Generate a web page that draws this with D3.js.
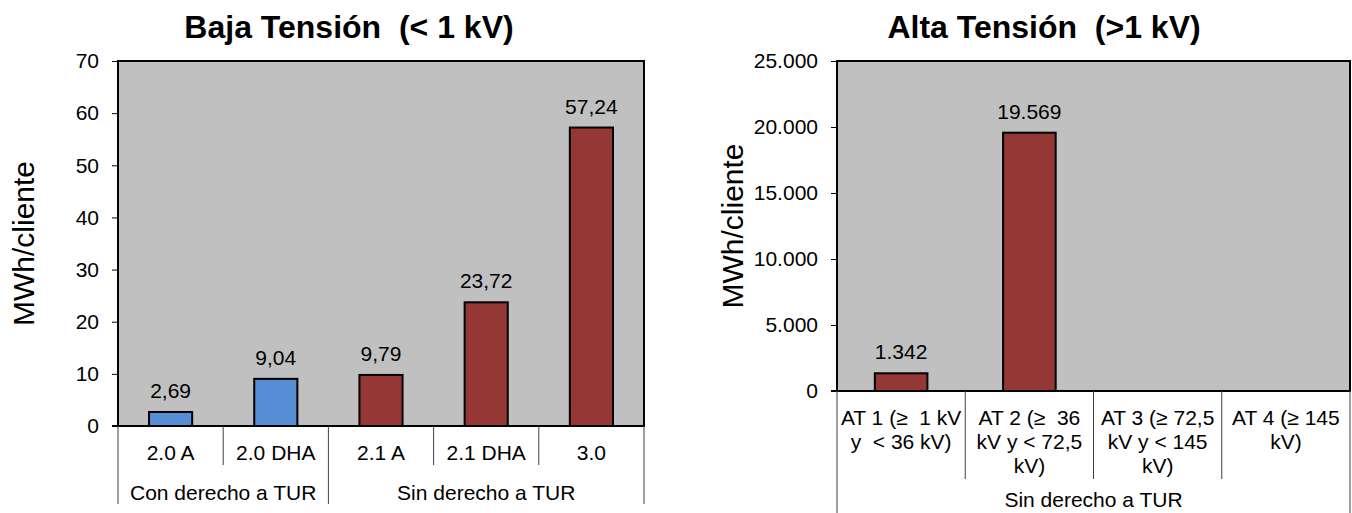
<!DOCTYPE html>
<html>
<head>
<meta charset="utf-8">
<script src="https://cdn.jsdelivr.net/npm/d3@7"></script>
<style>
  body { margin: 0; background: #fff; }
  svg { display: block; font-family: "Liberation Sans", Arial, sans-serif; }
  text { white-space: pre; }
</style>
</head>
<body>
<div id="chart"></div>
<script>
// Baja tension data
var btCategories = ["2.0 A", "2.0 DHA", "2.1 A", "2.1 DHA", "3.0"];
var btValues = [2.69, 9.04, 9.79, 23.72, 57.24];
var btGroupOf = ["Con derecho a TUR", "Con derecho a TUR", "Sin derecho a TUR", "Sin derecho a TUR", "Sin derecho a TUR"];
var btTicks = [0, 10, 20, 30, 40, 50, 60, 70];

// Alta tension data (category labels already split in lines)
var atCategories = [
  ["AT 1 (≥  1 kV", "y  < 36 kV)"],
  ["AT 2 (≥  36", "kV y < 72,5", "kV)"],
  ["AT 3 (≥ 72,5", "kV y < 145", "kV)"],
  ["AT 4 (≥ 145", "kV)"]
];
var atValues = [1342, 19569, null, null];
var atGroupOf = ["Sin derecho a TUR", "Sin derecho a TUR", "Sin derecho a TUR", "Sin derecho a TUR"];
var atTicks = [0, 5000, 10000, 15000, 20000, 25000];

var W = 1352, H = 513;
var fs = 21;

var esLocale = d3.formatLocale({ decimal: ",", thousands: ".", grouping: [3], currency: ["", " €"] });

var groupColor = d3.scaleOrdinal()
  .domain(["Con derecho a TUR", "Sin derecho a TUR"])
  .range(["#558ED5", "#953735"]);

var svg = d3.select("#chart").append("svg")
  .attr("width", W)
  .attr("height", H);

svg.append("rect").attr("width", W).attr("height", H).attr("fill", "#fff");

function drawPanel(cfg) {
  var g = svg.append("g");
  var n = cfg.categories.length;

  var x = d3.scaleBand()
    .domain(d3.range(n))
    .range([cfg.left, cfg.right])
    .padding(0);

  var y = d3.scaleLinear()
    .domain([0, d3.max(cfg.ticks)])
    .range([cfg.bottom, cfg.top]);

  //plot background
  g.append("rect")
    .attr("x", cfg.left)
    .attr("y", cfg.top)
    .attr("width", cfg.right - cfg.left)
    .attr("height", cfg.bottom - cfg.top)
    .attr("fill", "#C0C0C0")
    .attr("stroke", "#000")
    .attr("stroke-width", 2);

  //title
  g.append("text")
    .attr("x", cfg.titleX)
    .attr("y", 38)
    .attr("text-anchor", "middle")
    .attr("font-size", 32)
    .attr("font-weight", "bold")
    .text(cfg.title);

  //y axis
  var axis = d3.axisLeft(y)
    .tickValues(cfg.ticks)
    .tickSize(6)
    .tickPadding(13)
    .tickFormat(esLocale.format(",d"));

  var ax = g.append("g")
    .attr("transform", "translate(" + cfg.left + ",0)")
    .call(axis);
  ax.select(".domain").remove();
  ax.selectAll(".tick line").attr("stroke", "#000").attr("stroke-width", 1);
  ax.selectAll(".tick text")
    .attr("font-size", fs)
    .attr("font-family", "Liberation Sans, Arial, sans-serif")
    .attr("fill", "#000");

  //y label
  g.append("text")
    .attr("transform", "translate(" + cfg.yLabelX + "," + (cfg.top + cfg.bottom) / 2 + ") rotate(-90)")
    .attr("text-anchor", "middle")
    .attr("font-size", 30)
    .text("MWh/cliente");

  //bars
  var barFrac = 0.41;
  var bars = cfg.values.map(function (v, i) { return { i: i, v: v, grp: cfg.groupOf[i] }; })
    .filter(function (d) { return d.v != null; });

  g.selectAll("rect.bar")
    .data(bars)
    .enter()
    .append("rect")
    .attr("class", "bar")
    .attr("x", function (d) { return x(d.i) + x.bandwidth() * (1 - barFrac) / 2; })
    .attr("width", x.bandwidth() * barFrac)
    .attr("y", function (d) { return y(d.v); })
    .attr("height", function (d) { return y(0) - y(d.v); })
    .attr("fill", function (d) { return groupColor(d.grp); })
    .attr("stroke", "#000")
    .attr("stroke-width", 2);

  g.selectAll("text.val")
    .data(bars)
    .enter()
    .append("text")
    .attr("class", "val")
    .attr("x", function (d) { return x(d.i) + x.bandwidth() / 2; })
    .attr("y", function (d) { return y(d.v) - 14; })
    .attr("text-anchor", "middle")
    .attr("font-size", fs)
    .text(function (d) { return esLocale.format(cfg.valueFormat)(d.v); });

  //x axis line
  g.append("line")
    .attr("x1", cfg.left - 6).attr("x2", cfg.right)
    .attr("y1", y(0)).attr("y2", y(0))
    .attr("stroke", "#000")
    .attr("stroke-width", 2);

  //category separators
  var groupEnds = [];
  cfg.groupOf.forEach(function (gr, i) {
    if (i == n - 1 || cfg.groupOf[i + 1] != gr) groupEnds.push(i);
  });
  d3.range(1, n).forEach(function (i) {
    var full = groupEnds.indexOf(i - 1) >= 0;
    g.append("line")
      .attr("x1", x(i)).attr("x2", x(i))
      .attr("y1", y(0)).attr("y2", full ? cfg.outerBottom : cfg.sepBottom)
      .attr("stroke", "#404040")
      .attr("stroke-width", 1);
  });
  [cfg.left, cfg.right].forEach(function (xx) {
    g.append("line")
      .attr("x1", xx).attr("x2", xx)
      .attr("y1", y(0)).attr("y2", cfg.outerBottom)
      .attr("stroke", "#404040")
      .attr("stroke-width", 1);
  });

  //category labels
  cfg.categories.forEach(function (c, i) {
    var lines = Array.isArray(c) ? c : [c];
    var t = g.append("text")
      .attr("text-anchor", "middle")
      .attr("font-size", fs);
    lines.forEach(function (ln, k) {
      t.append("tspan")
        .attr("x", x(i) + x.bandwidth() / 2)
        .attr("y", cfg.catY + k * cfg.lineH)
        .text(ln);
    });
  });

  //group labels
  var start = 0;
  groupEnds.forEach(function (e) {
    var x0 = x(start), x1 = x(e) + x.bandwidth();
    g.append("text")
      .attr("x", (x0 + x1) / 2)
      .attr("y", cfg.groupY)
      .attr("text-anchor", "middle")
      .attr("font-size", fs)
      .text(cfg.groupOf[e]);
    start = e + 1;
  });
}

drawPanel({
  title: "Baja Tensión  (< 1 kV)",
  titleX: 349,
  categories: btCategories,
  values: btValues,
  groupOf: btGroupOf,
  ticks: btTicks,
  valueFormat: ",.2f",
  left: 118, right: 644, top: 61, bottom: 426,
  yLabelX: 34,
  catY: 460, lineH: 24, sepBottom: 465, groupY: 500, outerBottom: 504
});

drawPanel({
  title: "Alta Tensión  (>1 kV)",
  titleX: 1044,
  categories: atCategories,
  values: atValues,
  groupOf: atGroupOf,
  ticks: atTicks,
  valueFormat: ",d",
  left: 837, right: 1350, top: 61, bottom: 391,
  yLabelX: 743,
  catY: 425, lineH: 24, sepBottom: 479, groupY: 507, outerBottom: 513
});
</script>
</body>
</html>
